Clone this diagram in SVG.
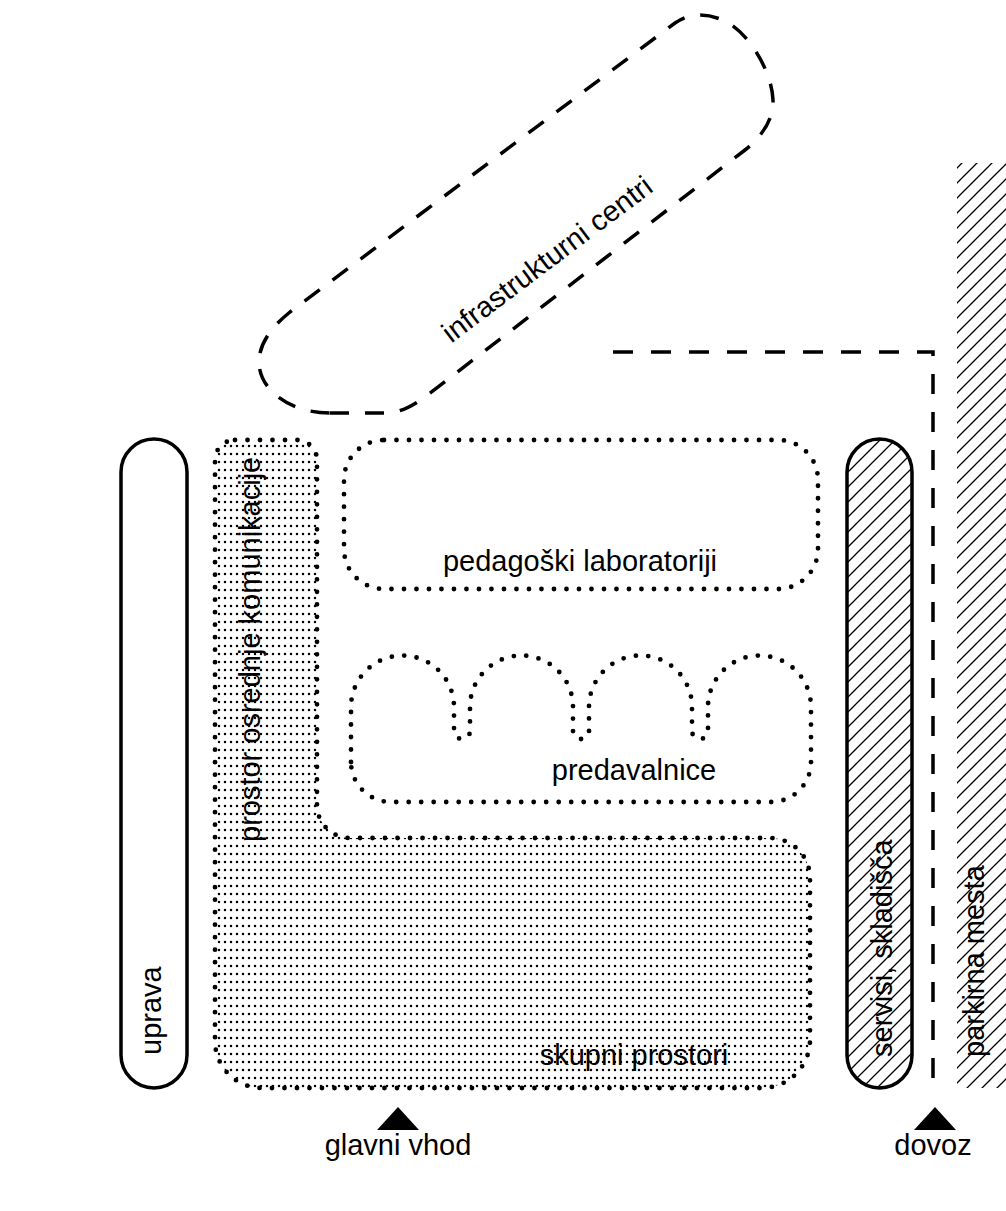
<svg xmlns="http://www.w3.org/2000/svg" width="1006" height="1211" viewBox="0 0 1006 1211">
<defs>
<pattern id="dots" patternUnits="userSpaceOnUse" x="0" y="2" width="6" height="8"><circle cx="3" cy="4" r="1.25" fill="#000"/></pattern>
<pattern id="hatch" patternUnits="userSpaceOnUse" width="15" height="15"><path d="M0,15 L15,0 M-3.75,3.75 L3.75,-3.75 M11.25,18.75 L18.75,11.25" stroke="#000" stroke-width="1.3" fill="none"/></pattern>
<style>
.lbl{font-family:"Liberation Sans",Arial,sans-serif;font-size:29px;fill:#000}
.dot{fill:none;stroke:#000;stroke-width:4.8;stroke-linecap:round;stroke-dasharray:0 12.5}
.solid{stroke:#000;stroke-width:3.5}
.dash{fill:none;stroke:#000;stroke-width:3.5;stroke-dasharray:19 16}
.road{fill:none;stroke:#000;stroke-width:3.5;stroke-dasharray:20 18}
</style>
</defs>
<rect width="1006" height="1211" fill="#fff"/>
<g id="infrastrukturni-centri">
<path class="dash" d="M330 413 L385 413 C400 413 412 406 425 397 L745 150 C765 134 774 116 773 100 C772 72 750 36 730 24 C720 18 710 15 700 15 C690 15 683 18 675 23 L290 312 C270 328 259 345 259 362 C259 390 290 413 330 413 Z"/>
<text class="lbl" text-anchor="middle" transform="translate(553,267) rotate(-37)">infrastrukturni centri</text>
</g>
<g id="uprava">
<rect class="solid" x="121" y="439" width="66" height="649" rx="33" fill="none"/>
<text class="lbl" transform="translate(161,1055) rotate(-90)">uprava</text>
</g>
<g id="komunikacije-skupni">
<path d="M235 440 L297 440 A20 20 0 0 1 317 460 L317 805 A33 33 0 0 0 350 838 L770 838 A40 40 0 0 1 810 878 L810 1040 A48 48 0 0 1 762 1088 L262 1088 A47 47 0 0 1 215 1041 L215 460 A20 20 0 0 1 235 440 Z" fill="url(#dots)"/>
<path class="dot" d="M235 440 L297 440 A20 20 0 0 1 317 460 L317 805 A33 33 0 0 0 350 838 L770 838 A40 40 0 0 1 810 878 L810 1040 A48 48 0 0 1 762 1088 L262 1088 A47 47 0 0 1 215 1041 L215 460 A20 20 0 0 1 235 440 Z"/>
<text class="lbl" transform="translate(260,842) rotate(-90)">prostor osrednje komunikacije</text>
<text class="lbl" text-anchor="middle" x="634" y="1065">skupni prostori</text>
</g>
<g id="pedagoski-laboratoriji">
<rect class="dot" x="344" y="440" width="474" height="149" rx="40"/>
<text class="lbl" text-anchor="middle" x="580" y="571">pedagoški laboratoriji</text>
</g>
<g id="predavalnice">
<path class="dot" d="M351 762 L351 707 A51.5 51.5 0 0 1 454 707 L454 731 A8 8 0 0 0 470 731 L470 707 A51.5 51.5 0 0 1 573 707 L573 731 A8 8 0 0 0 589 731 L589 707 A51.5 51.5 0 0 1 692 707 L692 731 A8 8 0 0 0 708 731 L708 707 A51.5 51.5 0 0 1 811 707 L811 762 A40 40 0 0 1 771 802 L391 802 A40 40 0 0 1 351 762 Z"/>
<text class="lbl" text-anchor="middle" x="634" y="780">predavalnice</text>
</g>
<g id="servisi-skladisca">
<rect x="847" y="439" width="65" height="649" rx="33" fill="url(#hatch)"/>
<rect class="solid" x="847" y="439" width="65" height="649" rx="33" fill="none"/>
<text class="lbl" transform="translate(892,1057) rotate(-90)">servisi, skladišča</text>
</g>
<g id="parkirna-mesta">
<rect x="957" y="163" width="49" height="925" fill="url(#hatch)"/>
<text class="lbl" transform="translate(984,1057) rotate(-90)">parkirna mesta</text>
</g>
<g id="connectors">
<path class="road" d="M613 352 L933 352 L933 1085"/>
</g>
<g id="glavni-vhod">
<polygon points="377,1130 419,1130 398,1107" fill="#000"/>
<text class="lbl" text-anchor="middle" x="398" y="1155">glavni vhod</text>
</g>
<g id="dovoz">
<polygon points="914,1130 956,1130 935,1107" fill="#000"/>
<text class="lbl" text-anchor="middle" x="933" y="1155">dovoz</text>
</g>
</svg>
